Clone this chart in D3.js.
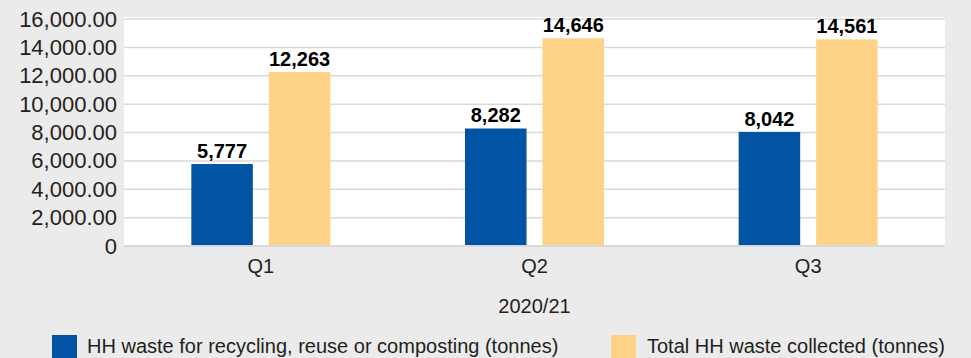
<!DOCTYPE html>
<html><head><meta charset="utf-8">
<script src="https://cdn.jsdelivr.net/npm/d3@7"></script>
<style>
body{margin:0;background:#ebebeb;}
svg{display:block;font-family:"Liberation Sans",Arial,Helvetica,sans-serif;}
</style></head>
<body><svg id="c" width="971" height="358"></svg>
<script>
const categories = ["Q1","Q2","Q3"];
const seriesNames = ["HH waste for recycling, reuse or composting (tonnes)","Total HH waste collected (tonnes)"];
const recycled = [5777, 8282, 8042];
const collected = [12263, 14646, 14561];
const yTicks = [0,2000,4000,6000,8000,10000,12000,14000,16000];
const groupLabel = "2020/21";
const colors = ["#0054a3","#fed388"];

const svg = d3.select("#c");
const L=124, R=945, T=19, B=246;
svg.append("rect").attr("x",L).attr("y",T-2).attr("width",R-L).attr("height",B-T+2).attr("fill","#fff");

const y = d3.scaleLinear().domain([0,16000]).range([B,T]);
const x0 = d3.scaleBand().domain(categories).range([L,R]);
const bw = x0.bandwidth(), pair = 139;
const x1 = d3.scaleBand().domain([0,1]).range([(bw-pair)/2,(bw+pair)/2]).paddingInner(0.206);

// gridlines
svg.append("g").selectAll("line").data(yTicks.filter(d=>d>0)).join("line")
  .attr("x1",L).attr("x2",R).attr("y1",d=>y(d)).attr("y2",d=>y(d))
  .attr("stroke","#d9d9d9").attr("stroke-width",1.5);

const fmt = d=> d===0 ? "0" : d3.format(",.2f")(d);
const yAxis = svg.append("g").attr("transform",`translate(${L},0)`)
  .call(d3.axisLeft(y).tickValues(yTicks).tickFormat(fmt).tickSize(0).tickPadding(7));
yAxis.select(".domain").remove();
yAxis.selectAll("text").attr("font-size",22).attr("fill","#231f20").attr("font-family","Liberation Sans, Arial, sans-serif");

const data = categories.map((c,i)=>({c, v:[recycled[i],collected[i]]}));
const g = svg.append("g").selectAll("g").data(data).join("g").attr("transform",d=>`translate(${x0(d.c)},0)`);
g.selectAll("rect").data(d=>d.v.map((v,k)=>({v,k}))).join("rect")
  .attr("x",d=>x1(d.k)).attr("width",x1.bandwidth())
  .attr("y",d=>y(d.v)).attr("height",d=>B-y(d.v)).attr("fill",d=>colors[d.k]);
g.selectAll("text").data(d=>d.v.map((v,k)=>({v,k}))).join("text")
  .attr("x",d=>x1(d.k)+x1.bandwidth()/2).attr("y",d=>y(d.v)-6)
  .attr("text-anchor","middle").attr("font-weight","bold").attr("font-size",20).attr("fill","#000")
  .text(d=>d3.format(",")(d.v));

// baseline
svg.append("line").attr("x1",L).attr("x2",R).attr("y1",B).attr("y2",B).attr("stroke","#d9d9d9").attr("stroke-width",2);

const xAxis = svg.append("g").attr("transform",`translate(0,${B})`)
  .call(d3.axisBottom(x0).tickSize(0).tickPadding(13));
xAxis.select(".domain").remove();
xAxis.selectAll("text").attr("font-size",20).attr("fill","#231f20").attr("font-family","Liberation Sans, Arial, sans-serif");

svg.append("text").attr("x",(L+R)/2).attr("y",313).attr("text-anchor","middle")
  .attr("font-size",20).attr("fill","#231f20").text(groupLabel);

// legend
const legX = [52,611];
const leg = svg.append("g").selectAll("g").data(seriesNames).join("g")
  .attr("transform",(d,i)=>`translate(${legX[i]},335)`);
leg.append("rect").attr("width",25).attr("height",25).attr("fill",(d,i)=>colors[i]);
leg.append("text").attr("x",(d,i)=>i===0?35:36).attr("y",18).attr("font-size",20).attr("fill","#231f20").text(d=>d);
</script></body></html>
